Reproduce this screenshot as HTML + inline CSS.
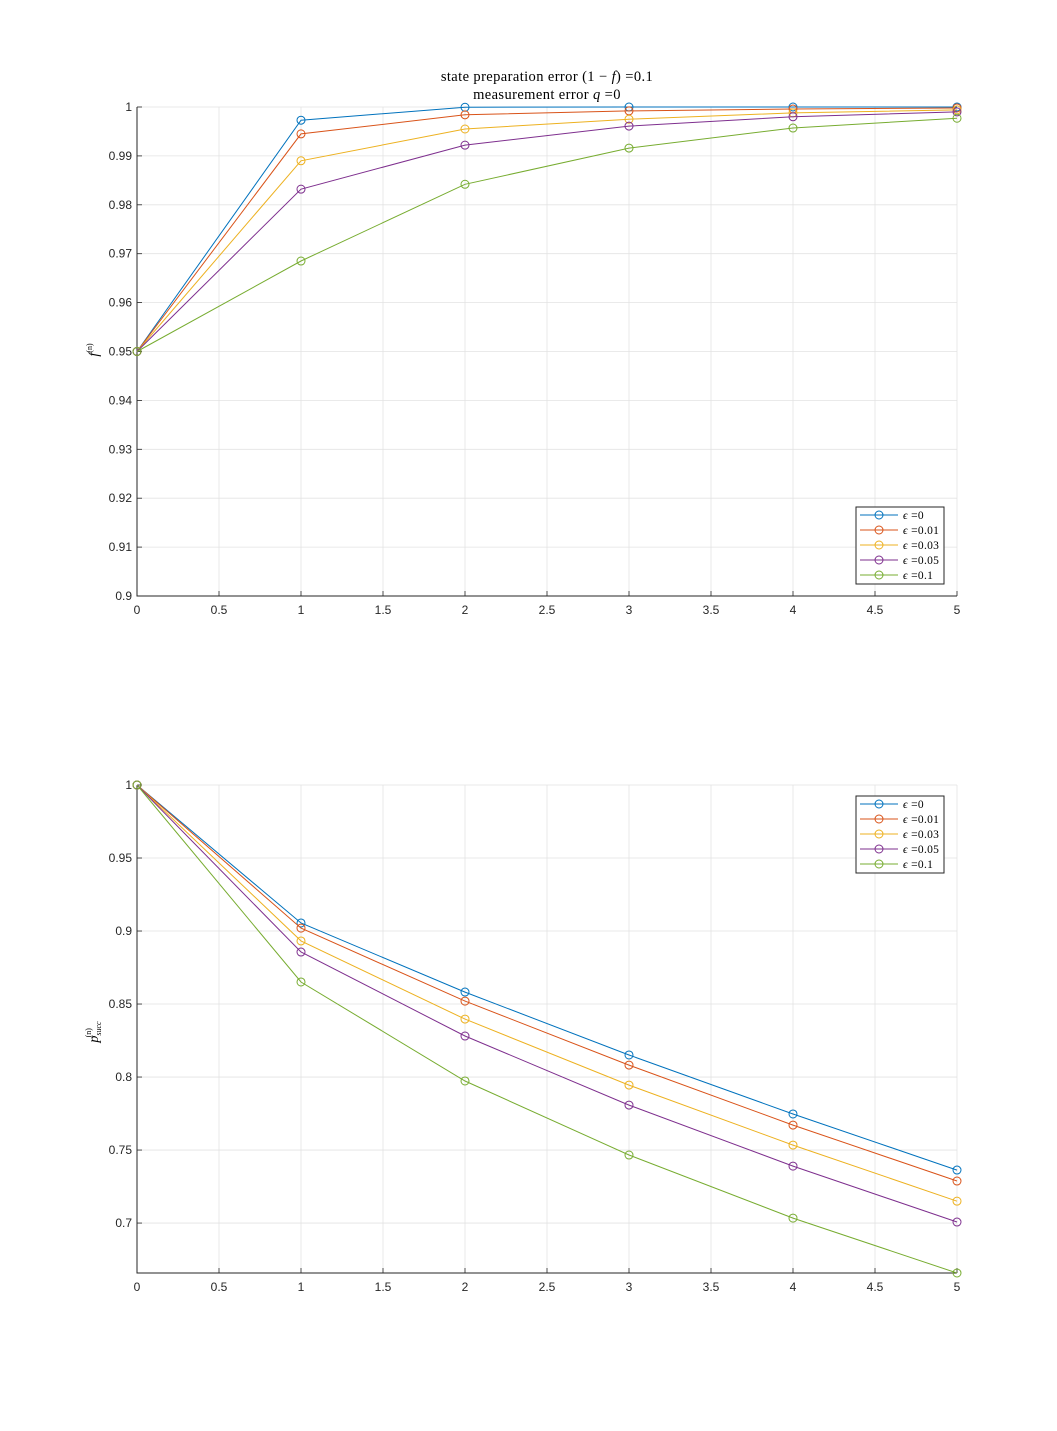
<!DOCTYPE html>
<html><head><meta charset="utf-8">
<style>
body{margin:0;background:#fff;}
svg{display:block;font-family:"Liberation Sans",sans-serif;}
</style></head>
<body>
<svg id="chart" width="1057" height="1431" viewBox="0 0 1057 1431" xmlns="http://www.w3.org/2000/svg">
<rect width="1057" height="1431" fill="#fff"/>
<g font-family="'Liberation Serif',serif" font-size="14.5" text-anchor="middle" fill="#000">
<text x="547" y="81" letter-spacing="0.4">state preparation error (1 − <tspan font-style="italic">f</tspan>) =0.1</text>
<text x="547" y="99" letter-spacing="0.4">measurement error <tspan font-style="italic">q</tspan> =0</text>
</g>
<g id="top"></g>
<g id="bot"></g>
</svg>
<script>
const xVals=[0,1,2,3,4,5];
const seriesLabels=['0','0.01','0.03','0.05','0.1'];
const colors=['#0072BD','#D95319','#EDB120','#7E2F8E','#77AC30'];
const fid0=[0.95,0.9973,0.99995,1.0,1.0,1.0];
const fid1=[0.95,0.9945,0.9984,0.9992,0.9996,0.9998];
const fid3=[0.95,0.989,0.9955,0.9975,0.9988,0.9994];
const fid5=[0.95,0.9832,0.9922,0.9961,0.998,0.999];
const fid10=[0.95,0.9685,0.9842,0.9916,0.9957,0.9977];
const ps0=[1,0.9055,0.8582,0.8151,0.7747,0.7363];
const ps1=[1,0.902,0.852,0.8082,0.7671,0.7288];
const ps3=[1,0.8932,0.8397,0.7945,0.7534,0.715];
const ps5=[1,0.8856,0.8281,0.7808,0.739,0.7007];
const ps10=[1,0.8651,0.7973,0.7466,0.7034,0.6658];
const xTicks=[0,0.5,1,1.5,2,2.5,3,3.5,4,4.5,5];
const xTickLabels=['0','0.5','1','1.5','2','2.5','3','3.5','4','4.5','5'];
const topYTicks=[0.9,0.91,0.92,0.93,0.94,0.95,0.96,0.97,0.98,0.99,1];
const topYLabels=['0.9','0.91','0.92','0.93','0.94','0.95','0.96','0.97','0.98','0.99','1'];
const botYTicks=[0.7,0.75,0.8,0.85,0.9,0.95,1];
const botYLabels=['0.7','0.75','0.8','0.85','0.9','0.95','1'];
const NS='http://www.w3.org/2000/svg';
function mk(p,t,a){const e=document.createElementNS(NS,t);for(const k in a)e.setAttribute(k,a[k]);p.appendChild(e);return e;}
function plot(g,cfg){
  const X0=137,X1=957,xs=v=>X0+(v-0)/(5-0)*(X1-X0);
  const ys=v=>cfg.py0+(v-cfg.ymin)/(cfg.ymax-cfg.ymin)*(cfg.py1-cfg.py0);
  xTicks.forEach((t,i)=>{
    const l=mk(g,'line',{x1:xs(t),x2:xs(t),y1:cfg.py0,y2:cfg.py1,stroke:'#e3e3e3','stroke-width':0.8});
    
    
    const tk=mk(g,'line',{x1:xs(t),x2:xs(t),y1:cfg.py0,y2:cfg.py0-5,stroke:'#262626','stroke-width':0.8});
    
    
    const tx=mk(g,'text',{x:xs(t),y:cfg.py0+18,'font-size':12,'text-anchor':'middle',fill:'#262626'});
    tx.textContent=xTickLabels[i];
    
    
  });
  cfg.yt.forEach((t,i)=>{
    const l=mk(g,'line',{x1:X0,x2:X1,y1:ys(t),y2:ys(t),stroke:'#e3e3e3','stroke-width':0.8});
    
    
    const tk=mk(g,'line',{x1:X0,x2:X0+5,y1:ys(t),y2:ys(t),stroke:'#262626','stroke-width':0.8});
    
    
    const tx=mk(g,'text',{x:X0-5,y:ys(t)+4,'font-size':12,'text-anchor':'end',fill:'#262626'});
    tx.textContent=cfg.yl[i];
    
    
  });
  const ax=mk(g,'path',{d:`M${X0} ${cfg.py1}V${cfg.py0}H${X1}`,fill:'none',stroke:'#262626'});
  
  
  cfg.series.forEach((s,si)=>{
    const pts=s.map((v,i)=>xs(xVals[i]).toFixed(1)+','+ys(v).toFixed(1)).join(' ');
    const pl=mk(g,'polyline',{points:pts,fill:'none',stroke:colors[si],'stroke-width':1});
    
    
    s.forEach((v,i)=>{
      const c=mk(g,'circle',{cx:xs(xVals[i]),cy:ys(v),r:4,fill:'none',stroke:colors[si]});
      
      
    });
  });
  const yl=mk(g,'text',{transform:`translate(${cfg.ylx},${cfg.yly}) rotate(-90)`,'font-size':14,'text-anchor':'middle','font-family':"'Liberation Serif',serif",'font-style':'italic'});
  yl.innerHTML=cfg.ylabel;
  
  
  const lg=mk(g,'g',{});
  
  
  mk(lg,'rect',{x:856,y:cfg.lgy,width:88,height:77,fill:'#fff',stroke:'#262626'});
  seriesLabels.forEach((s,i)=>{
    const y=cfg.lgy+8+i*15;
    const e=mk(lg,'g',{});
    
    
    mk(e,'line',{x1:860,x2:898,y1:y,y2:y,stroke:colors[i]});
    mk(e,'circle',{cx:879,cy:y,r:4,fill:'none',stroke:colors[i]});
    const t=mk(e,'text',{x:903,y:y+4,'font-size':11.5,'font-family':"'Liberation Serif',serif",'letter-spacing':0.3});
    t.innerHTML='<tspan font-style="italic">ϵ</tspan> =' + s;
  });
}
plot(document.getElementById('top'),{py0:596,py1:107,ymin:0.9,ymax:1,yt:topYTicks,yl:topYLabels,
  series:[fid0,fid1,fid3,fid5,fid10],ylx:98,yly:350,lgy:507,
  ylabel:'f<tspan font-size="8" dy="-6" font-style="normal">(n)</tspan>'});
plot(document.getElementById('bot'),{py0:1273,py1:785,ymin:0.6658,ymax:1,yt:botYTicks,yl:botYLabels,
  series:[ps0,ps1,ps3,ps5,ps10],ylx:98,yly:1032,lgy:796,
  ylabel:'p<tspan font-size="8" dy="3">succ</tspan><tspan font-size="8" dx="-16" dy="-10" font-style="normal">(n)</tspan>'});
</script>
</body></html>
